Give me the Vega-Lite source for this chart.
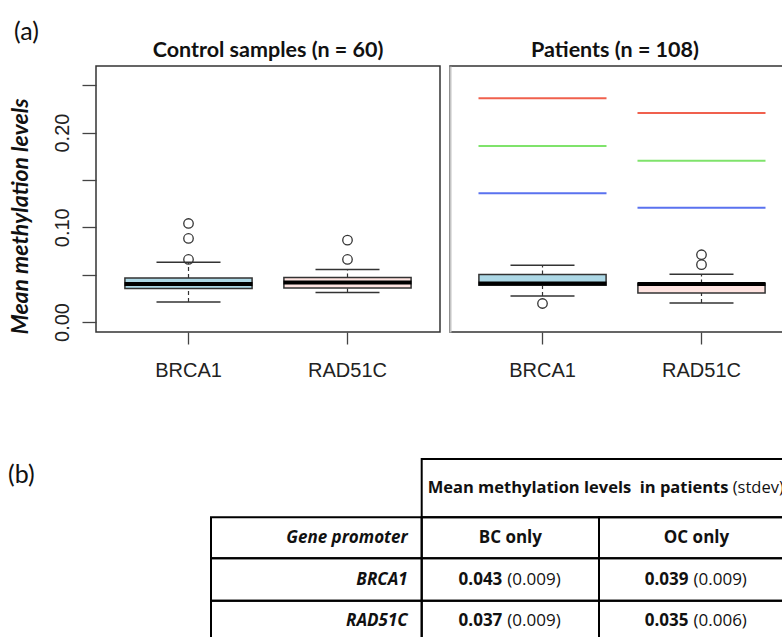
{
  "$schema": "https://vega.github.io/schema/vega-lite/v6.json",
  "autosize": {"type": "none"},
  "padding": {"left": 96, "top": 66, "right": 686, "bottom": 571},
  "background": "white",
  "config": {
    "axis": {"grid": false, "labelFont": "Liberation Sans", "labelFontSize": 20, "labelColor": "#222", "tickColor": "#444", "tickWidth": 1.3, "domain": false}
  },
  "datasets": {
    "panel_label": [{"label": "(a)"}],
    "control_boxes": [
      {"gene": "BRCA1", "lower": 0.0211, "q1": 0.0353, "median": 0.0402, "q3": 0.0465, "upper": 0.0631},
      {"gene": "RAD51C", "lower": 0.0311, "q1": 0.0359, "median": 0.0417, "q3": 0.0469, "upper": 0.0554}
    ],
    "control_outliers": [
      {"gene": "BRCA1", "value": 0.066},
      {"gene": "BRCA1", "value": 0.0882},
      {"gene": "BRCA1", "value": 0.104},
      {"gene": "RAD51C", "value": 0.066},
      {"gene": "RAD51C", "value": 0.0864}
    ],
    "patient_boxes": [
      {"gene": "BRCA1", "lower": 0.0275, "q1": 0.0388, "median": 0.0406, "q3": 0.0501, "upper": 0.0599},
      {"gene": "RAD51C", "lower": 0.0201, "q1": 0.0307, "median": 0.0400, "q3": 0.0406, "upper": 0.0504}
    ],
    "patient_outliers": [
      {"gene": "BRCA1", "value": 0.0195},
      {"gene": "RAD51C", "value": 0.0605},
      {"gene": "RAD51C", "value": 0.0710}
    ],
    "patient_lines": [
      {"gene": "BRCA1", "level": "high", "value": 0.2362},
      {"gene": "BRCA1", "level": "mid", "value": 0.1857},
      {"gene": "BRCA1", "level": "low", "value": 0.136},
      {"gene": "RAD51C", "level": "high", "value": 0.2206},
      {"gene": "RAD51C", "level": "mid", "value": 0.1702},
      {"gene": "RAD51C", "level": "low", "value": 0.1205}
    ],
    "grid": [
      {"r0": 0, "r1": 1, "c0": 1, "c1": 4},
      {"r0": 1, "r1": 2, "c0": 0, "c1": 1},
      {"r0": 1, "r1": 2, "c0": 1, "c1": 2},
      {"r0": 1, "r1": 2, "c0": 2, "c1": 3},
      {"r0": 2, "r1": 3, "c0": 0, "c1": 1},
      {"r0": 2, "r1": 3, "c0": 1, "c1": 2},
      {"r0": 2, "r1": 3, "c0": 2, "c1": 3},
      {"r0": 3, "r1": 4, "c0": 0, "c1": 1},
      {"r0": 3, "r1": 4, "c0": 1, "c1": 2},
      {"r0": 3, "r1": 4, "c0": 2, "c1": 3}
    ],
    "header": [
      {"label": "Mean methylation levels\u00a0 in patients", "note": "(stdev)", "colpos": 1, "rowpos": 0.5}
    ],
    "rowlabels": [
      {"label": "Gene promoter", "colpos": 1, "rowpos": 1.5},
      {"label": "BRCA1", "colpos": 1, "rowpos": 2.5},
      {"label": "RAD51C", "colpos": 1, "rowpos": 3.5}
    ],
    "colheads": [
      {"label": "BC only", "colpos": 1.5, "rowpos": 1.5},
      {"label": "OC only", "colpos": 2.5, "rowpos": 1.5}
    ],
    "cellvalues": [
      {"gene": "BRCA1", "group": "BC only", "mean": "0.043", "sd": "(0.009)", "colpos": 1.5, "rowpos": 2.5},
      {"gene": "BRCA1", "group": "OC only", "mean": "0.039", "sd": "(0.009)", "colpos": 2.5, "rowpos": 2.5},
      {"gene": "RAD51C", "group": "BC only", "mean": "0.037", "sd": "(0.009)", "colpos": 1.5, "rowpos": 3.5},
      {"gene": "RAD51C", "group": "OC only", "mean": "0.035", "sd": "(0.006)", "colpos": 2.5, "rowpos": 3.5}
    ]
  },
  "bounds": "flush",
  "spacing": 393,
  "vconcat": [
    {
      "bounds": "flush",
      "spacing": 10,
      "hconcat": [
        {
          "width": 344,
          "height": 266,
          "view": {"stroke": "#333", "strokeWidth": 1.5},
          "title": {"text": "Control samples (n = 60)", "font": "Lato", "fontSize": 21.5, "fontWeight": "bold", "color": "#111", "baseline": "alphabetic", "offset": 9, "dy": 67, "anchor": "middle"},
          "layer": [
            {
              "data": {"name": "control_boxes"},
              "mark": {"type": "rule", "strokeDash": [4, 3], "color": "#333", "strokeWidth": 1.2},
              "encoding": {
                "x": {"field": "gene", "type": "nominal", "scale": {"domain": ["BRCA1", "RAD51C"], "paddingInner": 0.2, "paddingOuter": 0.1818}, "axis": {"title": null, "labelAngle": 0, "tickSize": 12, "labelPadding": 16}},
                "y": {"field": "q3", "type": "quantitative", "scale": {"domain": [-0.0106, 0.2703], "nice": false, "zero": false},
                  "axis": {"values": [0, 0.05, 0.1, 0.15, 0.2, 0.25], "labelExpr": "round(datum.value*100) % 10 == 0 ? format(datum.value, '.2f') : ''", "tickSize": 14, "labelAngle": 270, "labelPadding": 10, "title": "Mean methylation levels", "titleFont": "Lato", "titleFontSize": 23, "titleFontWeight": "bold", "titleFontStyle": "italic", "titleColor": "#111", "titlePadding": 20, "titleY": 150}},
                "y2": {"field": "upper"}
              }
            },
            {
              "data": {"name": "control_boxes"},
              "mark": {"type": "rule", "strokeDash": [4, 3], "color": "#333", "strokeWidth": 1.2},
              "encoding": {
                "x": {"field": "gene", "type": "nominal"},
                "y": {"field": "lower", "type": "quantitative"},
                "y2": {"field": "q1"}
              }
            },
            {
              "data": {"name": "control_boxes"},
              "mark": {"type": "tick", "size": 64, "thickness": 1.5, "color": "#333", "opacity": 1},
              "encoding": {"x": {"field": "gene", "type": "nominal"}, "y": {"field": "upper", "type": "quantitative"}}
            },
            {
              "data": {"name": "control_boxes"},
              "mark": {"type": "tick", "size": 64, "thickness": 1.5, "color": "#333", "opacity": 1},
              "encoding": {"x": {"field": "gene", "type": "nominal"}, "y": {"field": "lower", "type": "quantitative"}}
            },
            {
              "data": {"name": "control_boxes"},
              "mark": {"type": "bar", "stroke": "#333", "strokeWidth": 1.5, "opacity": 1},
              "encoding": {
                "x": {"field": "gene", "type": "nominal"},
                "y": {"field": "q1", "type": "quantitative"},
                "y2": {"field": "q3"},
                "fill": {"field": "gene", "type": "nominal", "scale": {"domain": ["BRCA1", "RAD51C"], "range": ["#add8e6", "#ffe4e1"]}, "legend": null}
              }
            },
            {
              "data": {"name": "control_boxes"},
              "mark": {"type": "tick", "size": 128, "thickness": 4, "color": "#000", "opacity": 1},
              "encoding": {"x": {"field": "gene", "type": "nominal"}, "y": {"field": "median", "type": "quantitative"}}
            },
            {
              "data": {"name": "control_outliers"},
              "mark": {"type": "point", "shape": "circle", "filled": false, "stroke": "#333", "strokeWidth": 1.3, "size": 90, "opacity": 1},
              "encoding": {"x": {"field": "gene", "type": "nominal"}, "y": {"field": "value", "type": "quantitative"}}
            },
            {
              "data": {"name": "panel_label"},
              "mark": {"type": "text", "font": "Lato", "fontSize": 25, "color": "#111", "align": "center", "baseline": "middle", "dx": -162},
              "encoding": {"x": {"datum": "BRCA1"}, "y": {"datum": 0.3062}, "text": {"field": "label"}}
            }
          ]
        },
        {
          "width": 344,
          "height": 266,
          "view": {"stroke": "#333", "strokeWidth": 1.5},
          "title": {"text": "Patients (n = 108)", "font": "Lato", "fontSize": 21.5, "fontWeight": "bold", "color": "#111", "baseline": "alphabetic", "offset": 9, "dy": 21, "anchor": "middle", "dx": -7},
          "layer": [
            {
              "data": {"name": "patient_lines"},
              "mark": {"type": "tick", "size": 128, "thickness": 2, "opacity": 1},
              "encoding": {
                "x": {"field": "gene", "type": "nominal", "scale": {"domain": ["BRCA1", "RAD51C"], "paddingInner": 0.2, "paddingOuter": 0.1818}, "axis": {"title": null, "labelAngle": 0, "tickSize": 12, "labelPadding": 16}},
                "y": {"field": "value", "type": "quantitative", "scale": {"domain": [-0.0106, 0.2703], "nice": false, "zero": false},
                  "axis": {"title": null, "labels": false, "ticks": false, "domain": true, "domainColor": "#c4c4c4", "domainWidth": 2}},
                "color": {"field": "level", "type": "nominal", "scale": {"domain": ["high", "mid", "low"], "range": ["#f0604d", "#7fe36b", "#5a72ef"]}, "legend": null}
              }
            },
            {
              "data": {"name": "patient_boxes"},
              "mark": {"type": "rule", "strokeDash": [4, 3], "color": "#333", "strokeWidth": 1.2},
              "encoding": {
                "x": {"field": "gene", "type": "nominal"},
                "y": {"field": "q3", "type": "quantitative"},
                "y2": {"field": "upper"}
              }
            },
            {
              "data": {"name": "patient_boxes"},
              "mark": {"type": "rule", "strokeDash": [4, 3], "color": "#333", "strokeWidth": 1.2},
              "encoding": {
                "x": {"field": "gene", "type": "nominal"},
                "y": {"field": "lower", "type": "quantitative"},
                "y2": {"field": "q1"}
              }
            },
            {
              "data": {"name": "patient_boxes"},
              "mark": {"type": "tick", "size": 64, "thickness": 1.5, "color": "#333", "opacity": 1},
              "encoding": {"x": {"field": "gene", "type": "nominal"}, "y": {"field": "upper", "type": "quantitative"}}
            },
            {
              "data": {"name": "patient_boxes"},
              "mark": {"type": "tick", "size": 64, "thickness": 1.5, "color": "#333", "opacity": 1},
              "encoding": {"x": {"field": "gene", "type": "nominal"}, "y": {"field": "lower", "type": "quantitative"}}
            },
            {
              "data": {"name": "patient_boxes"},
              "mark": {"type": "bar", "stroke": "#333", "strokeWidth": 1.5, "opacity": 1},
              "encoding": {
                "x": {"field": "gene", "type": "nominal"},
                "y": {"field": "q1", "type": "quantitative"},
                "y2": {"field": "q3"},
                "fill": {"field": "gene", "type": "nominal", "scale": {"domain": ["BRCA1", "RAD51C"], "range": ["#add8e6", "#ffe4e1"]}, "legend": null}
              }
            },
            {
              "data": {"name": "patient_boxes"},
              "mark": {"type": "tick", "size": 128, "thickness": 4, "color": "#000", "opacity": 1},
              "encoding": {"x": {"field": "gene", "type": "nominal"}, "y": {"field": "median", "type": "quantitative"}}
            },
            {
              "data": {"name": "patient_outliers"},
              "mark": {"type": "point", "shape": "circle", "filled": false, "stroke": "#333", "strokeWidth": 1.3, "size": 90, "opacity": 1},
              "encoding": {"x": {"field": "gene", "type": "nominal"}, "y": {"field": "value", "type": "quantitative"}}
            }
          ]
        }
      ]
    },
    {
      "width": 686,
      "height": 200,
      "view": {"stroke": null},
      "title": {"text": "(b)", "anchor": "start", "frame": "group", "font": "Lato", "fontSize": 25, "fontWeight": "normal", "color": "#111", "dx": -88, "dy": 42, "offset": 0, "baseline": "middle"},
      "layer": [
        {
          "data": {"name": "grid"},
          "mark": {"type": "rect", "filled": false, "color": "#000", "strokeWidth": 2},
          "encoding": {
            "x": {"field": "c0", "type": "quantitative", "scale": {"domain": [0, 1, 2, 3, 4], "range": [115, 325.7, 503, 698, 893], "nice": false, "zero": false}, "axis": null},
            "x2": {"field": "c1"},
            "y": {"field": "r0", "type": "quantitative", "scale": {"domain": [0, 1, 2, 3, 4], "range": [0, 58.3, 99.3, 141.7, 183], "nice": false, "zero": false}, "axis": null},
            "y2": {"field": "r1"}
          }
        },
        {
          "data": {"name": "header"},
          "mark": {"type": "text", "font": "Open Sans", "fontSize": 16.5, "fontWeight": "bold", "color": "#111", "align": "left", "baseline": "middle", "dx": 6},
          "encoding": {"x": {"field": "colpos", "type": "quantitative"}, "y": {"field": "rowpos", "type": "quantitative"}, "text": {"field": "label"}}
        },
        {
          "data": {"name": "header"},
          "mark": {"type": "text", "font": "Open Sans", "fontSize": 16.5, "fontWeight": "normal", "color": "#111", "align": "left", "baseline": "middle", "dx": 311},
          "encoding": {"x": {"field": "colpos", "type": "quantitative"}, "y": {"field": "rowpos", "type": "quantitative"}, "text": {"field": "note"}}
        },
        {
          "data": {"name": "rowlabels"},
          "mark": {"type": "text", "font": "Open Sans", "fontSize": 17, "fontWeight": "bold", "fontStyle": "italic", "color": "#111", "align": "right", "baseline": "middle", "dx": -14},
          "encoding": {"x": {"field": "colpos", "type": "quantitative"}, "y": {"field": "rowpos", "type": "quantitative"}, "text": {"field": "label"}}
        },
        {
          "data": {"name": "colheads"},
          "mark": {"type": "text", "font": "Open Sans", "fontSize": 17, "fontWeight": "bold", "color": "#111", "align": "center", "baseline": "middle"},
          "encoding": {"x": {"field": "colpos", "type": "quantitative"}, "y": {"field": "rowpos", "type": "quantitative"}, "text": {"field": "label"}}
        },
        {
          "data": {"name": "cellvalues"},
          "mark": {"type": "text", "font": "Open Sans", "fontSize": 17, "fontWeight": "bold", "color": "#111", "align": "right", "baseline": "middle", "dx": -8},
          "encoding": {"x": {"field": "colpos", "type": "quantitative"}, "y": {"field": "rowpos", "type": "quantitative"}, "text": {"field": "mean"}}
        },
        {
          "data": {"name": "cellvalues"},
          "mark": {"type": "text", "font": "Open Sans", "fontSize": 17, "fontWeight": "normal", "color": "#111", "align": "left", "baseline": "middle", "dx": -3},
          "encoding": {"x": {"field": "colpos", "type": "quantitative"}, "y": {"field": "rowpos", "type": "quantitative"}, "text": {"field": "sd"}}
        }
      ]
    }
  ]
}
